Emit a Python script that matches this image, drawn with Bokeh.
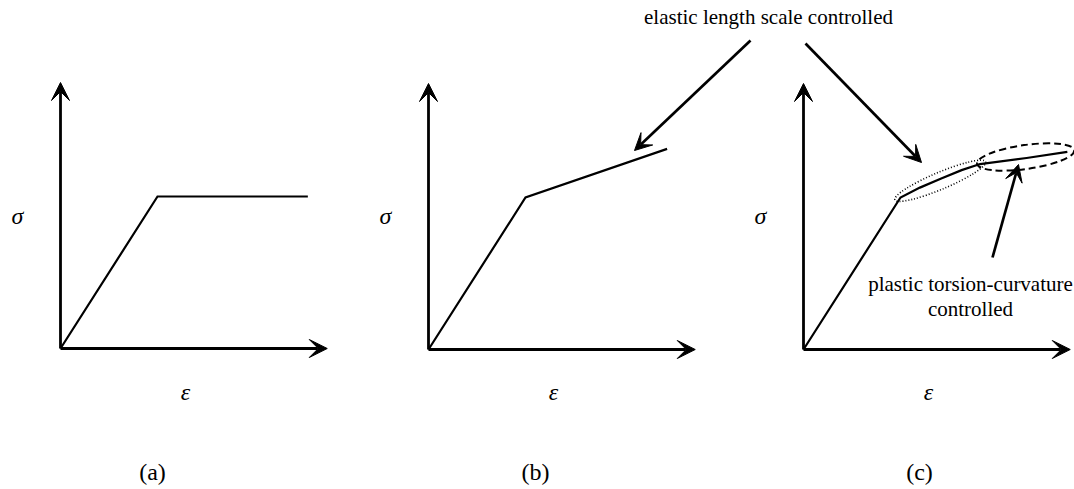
import math

from bokeh.core.properties import value
from bokeh.embed import file_html
from bokeh.models import Arrow, Range1d, VeeHead
from bokeh.plotting import figure
from bokeh.resources import INLINE

# ---- schematic stress-strain data (normalised: yield point at strain 1, stress 1) ----
panel_labels = ["(a)", "(b)", "(c)"]

strain_a = [0.0, 1.0, 2.55]          # elastic - perfectly plastic
stress_a = [0.0, 1.0, 1.0]

strain_b = [0.0, 1.0, 2.46]          # linear hardening
stress_b = [0.0, 1.0, 1.32]

strain_c = [0.0, 1.0, 1.2, 1.42, 1.63, 1.82, 2.3, 2.72]   # two-stage hardening
stress_c = [0.0, 1.0, 1.065, 1.125, 1.18, 1.22, 1.26, 1.30]
junction_c = 5                       # index where the second hardening stage starts

axis_len_strain = 2.75
axis_len_stress = 1.75

# ---- layout (canvas pixels) ----
W, H = 1074, 489
origins = [(60, 348), (428, 349), (803, 349)]
px_strain, px_stress = 97.0, 152.0
label_x = [152, 535, 919]
SERIF = value("'Liberation Serif', 'Times New Roman', serif")

p = figure(width=W, height=H, x_range=Range1d(0, W), y_range=Range1d(H, 0),
           output_backend="svg", toolbar_location=None, min_border=0)
p.axis.visible = False
p.grid.visible = False
p.outline_line_color = None
p.background_fill_color = "white"
p.border_fill_color = "white"


def to_canvas(origin, strain, stress):
    ox, oy = origin
    return ([ox + s * px_strain for s in strain], [oy - t * px_stress for t in stress])


def arrow(x0, y0, x1, y1, lw=2.7, size=17):
    p.add_layout(Arrow(end=VeeHead(size=size, fill_color="black", line_color="black", line_width=1),
                       x_start=x0, y_start=y0, x_end=x1, y_end=y1,
                       line_width=lw, line_color="black"))


curves = [(strain_a, stress_a), (strain_b, stress_b), (strain_c, stress_c)]
for (ox, oy), (eps, sig), lab, lx in zip(origins, curves, panel_labels, label_x):
    # axes with arrow heads
    arrow(ox, oy, ox, oy - axis_len_stress * px_stress, lw=2.8, size=18)
    arrow(ox, oy, ox + axis_len_strain * px_strain, oy, lw=2.8, size=18)
    xs, ys = to_canvas((ox, oy), eps, sig)
    p.line(xs, ys, line_color="black", line_width=2.2, line_join="miter")
    p.text(x=[ox - 43], y=[215], text=["σ"], text_font=SERIF, text_font_style="italic",
           text_font_size="24px", text_align="center", text_baseline="middle", text_color="black")
    p.text(x=[ox + 125], y=[391], text=["ε"], text_font=SERIF, text_font_style="italic",
           text_font_size="24px", text_align="center", text_baseline="middle", text_color="black")
    p.text(x=[lx], y=[471], text=[lab], text_font=SERIF, text_font_size="24px",
           text_align="center", text_baseline="middle", text_color="black")

# ---- highlight regions of the two hardening stages in panel (c) ----
cx, cy = to_canvas(origins[2], strain_c, stress_c)


def region(i0, i1, pad_w, h):
    x0, y0, x1, y1 = cx[i0], cy[i0], cx[i1], cy[i1]
    length = math.hypot(x1 - x0, y1 - y0)
    ang = math.atan2(y0 - y1, x1 - x0)
    return (x0 + x1) / 2, (y0 + y1) / 2, length + pad_w, h, ang


ex, ey, ew, eh, ea = region(1, junction_c, 12, 17)
p.ellipse(x=[ex], y=[ey], width=[ew], height=[eh], angle=[ea], width_units="screen",
          height_units="screen", fill_color=None, line_color="black", line_width=1.6,
          line_dash="1 2")
ex, ey, ew, eh, ea = region(junction_c, len(cx) - 1, 10, 24)
p.ellipse(x=[ex + 2], y=[ey - 1], width=[ew], height=[eh], angle=[ea], width_units="screen",
          height_units="screen", fill_color=None, line_color="black", line_width=2,
          line_dash="7 4")

# ---- annotations ----
p.text(x=[768], y=[16], text=["elastic length scale controlled"], text_font=SERIF,
       text_font_size="21px", text_align="center", text_baseline="middle", text_color="black")
arrow(750, 40, 634, 150)
arrow(805, 43, 921, 162)

p.text(x=[970, 970], y=[283, 308], text=["plastic torsion-curvature", "controlled"],
       text_font=SERIF, text_font_size="21px", text_align="center", text_baseline="middle",
       text_color="black")
arrow(992, 257, 1018, 164)

open("out.html", "w").write(file_html(p, INLINE))
